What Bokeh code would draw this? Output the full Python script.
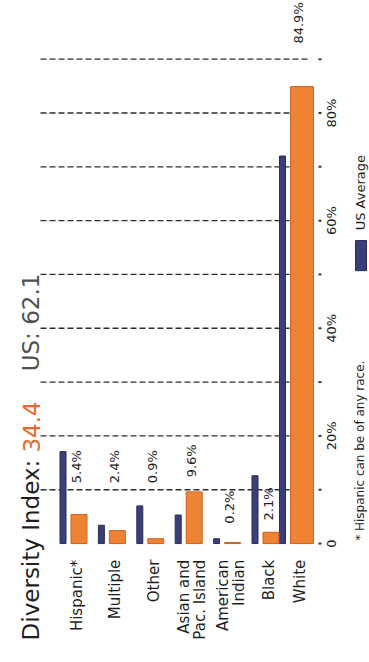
import math

from bokeh.core.properties import value
from bokeh.embed import file_html
from bokeh.models import Range1d
from bokeh.plotting import figure
from bokeh.resources import INLINE

# ---- data -------------------------------------------------------------
categories = ["Hispanic*", "Multiple", "Other", "Asian and\nPac. Island",
              "American\nIndian", "Black", "White"]
local_pct = [5.4, 2.4, 0.9, 9.6, 0.2, 2.1, 84.9]      # this community
us_pct = [17.1, 3.4, 7.0, 5.3, 0.9, 12.6, 72.0]       # US average
value_ticks = [0, 20, 40, 60, 80]
grid_ticks = [10, 20, 30, 40, 50, 60, 70, 80, 90]
diversity_index = 34.4
us_diversity_index = 62.1

# ---- styling ----------------------------------------------------------
FONT = "DejaVu Sans"
ORANGE = "#EE8433"
ORANGE_EDGE = "#D0601F"
NAVY = "#3B3F78"
NAVY_EDGE = "#2A2C5A"
INK = "#1E1E1E"
GREY = "#505050"
UP = math.pi / 2          # text reads bottom-to-top

PX = 38.4                 # pixels per category step
# group slots; the last (largest) group sits a little closer to its neighbour
slot = [0, 1, 2, 3, 4, 5, 5.716]
orange_w = [16, 16, 16, 16, 16, 16, 23]          # bar widths in px
blue_w = 6

# where each percentage label starts (in % units along the value axis)
label_start = [11.2, 11.2, 11.2, 12.3, 3.7, 4.3, 92.9]

# column positions (in category units) of the side furniture
AXIS_X = 6.354
TICK_LABEL_X = 6.70
SIDE_TEXT_X = 7.435
TITLE_X = -1.12
GRID_X0, GRID_X1 = -0.885, 6.12

blue_x = [s - 11.5 / PX for s in slot]
orange_x = [bx + (blue_w / 2 + 5 + w / 2) / PX for bx, w in zip(blue_x, orange_w)]

p = figure(width=369, height=662, output_backend="svg", toolbar_location=None,
           title=None, x_axis_location=None, y_axis_location=None,
           x_range=Range1d(-74 / PX, 295 / PX), y_range=Range1d(-22.1, 100.9),
           min_border=0, outline_line_color=None,
           background_fill_color="white", border_fill_color="white")
p.grid.visible = False

# dashed reference lines
p.segment(x0=[GRID_X0] * len(grid_ticks), y0=grid_ticks,
          x1=[GRID_X1] * len(grid_ticks), y1=grid_ticks,
          line_color="#2E2E2E", line_width=1.3, line_dash="6 3")

# bars
p.vbar(x=blue_x, top=us_pct, bottom=0, width=blue_w / PX,
       fill_color=NAVY, line_color=NAVY_EDGE, line_width=1)
p.vbar(x=orange_x, top=local_pct, bottom=0, width=[w / PX for w in orange_w],
       fill_color=ORANGE, line_color=ORANGE_EDGE, line_width=1)

# value scale: small tick marks every 10 %, labels every 20 %
all_ticks = [0] + grid_ticks
p.segment(x0=[AXIS_X] * len(all_ticks), y0=all_ticks,
          x1=[AXIS_X + 3 / PX] * len(all_ticks), y1=all_ticks,
          line_color="#333333", line_width=2)
p.text(x=[TICK_LABEL_X] * len(value_ticks), y=value_ticks,
       text=["0" if t == 0 else f"{t}%" for t in value_ticks], angle=UP,
       text_font=value(FONT), text_font_size="13px", text_color=INK,
       text_align="center", text_baseline="middle")

# percentage labels of the local bars
p.text(x=[ox - 3 / PX for ox in orange_x], y=label_start,
       text=[f"{v}%" for v in local_pct], angle=UP,
       text_font=value(FONT), text_font_size="13px", text_color=INK,
       text_align="left", text_baseline="middle")

# category labels, centred under the local bars
p.text(x=[ox - 2 / PX for ox in orange_x], y=[-3.0] * len(slot),
       text=categories, angle=UP, text_font=value(FONT),
       text_font_size="15px", text_color=INK, text_align="right",
       text_baseline="middle", text_line_height=0.9)

# title along the left edge
p.text(x=[TITLE_X], y=[-18.0], text=["Diversity Index:"], angle=UP,
       text_font=value(FONT), text_font_size="23px", text_color=INK,
       text_align="left", text_baseline="middle")
p.text(x=[TITLE_X], y=[16.9], text=[f"{diversity_index}"], angle=UP,
       text_font=value(FONT), text_font_size="23px", text_color="#E8692A",
       text_align="left", text_baseline="middle")
p.text(x=[TITLE_X], y=[32.0], text=[f"US: {us_diversity_index}"], angle=UP,
       text_font=value(FONT), text_font_size="23px", text_color=GREY,
       text_align="left", text_baseline="middle")

# legend swatch + label, footnote
p.quad(left=[7.318], right=[7.604], bottom=[50.7], top=[56.3],
       fill_color=NAVY, line_color=NAVY_EDGE)
p.text(x=[SIDE_TEXT_X], y=[58.2], text=["US Average"], angle=UP,
       text_font=value(FONT), text_font_size="13px", text_color=INK,
       text_align="left", text_baseline="middle")
p.text(x=[SIDE_TEXT_X], y=[0.5], text=["* Hispanic can be of any race."],
       angle=UP, text_font=value(FONT), text_font_size="12px",
       text_color=INK, text_align="left", text_baseline="middle")

open("out.html", "w").write(file_html(p, INLINE))
